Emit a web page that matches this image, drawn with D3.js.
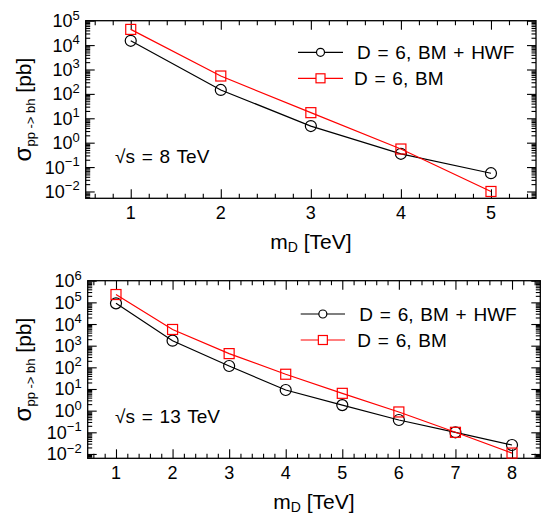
<!DOCTYPE html>
<html>
<head>
<meta charset="utf-8">
<script src="https://cdn.jsdelivr.net/npm/d3@7"></script>
<style>
  body { margin: 0; background: #fff; }
  svg { display: block; font-family: "Liberation Sans", Arial, sans-serif; }
</style>
</head>
<body>
<div id="chart"></div>
<script>
// sqrt(s) = 8 TeV
const md8 = [1, 2, 3, 4, 5];
const hwf8 = [1.5e4, 145, 4.8, 0.35, 0.056];
const bm8 = [4.4e4, 540, 17, 0.55, 0.01];

// sqrt(s) = 13 TeV
const md13 = [1, 2, 3, 4, 5, 6, 7, 8];
const hwf13 = [9e4, 1.7e3, 115, 9, 1.8, 0.37, 0.1, 0.026];
const bm13 = [2.3e5, 5.6e3, 430, 48, 6.3, 0.87, 0.1, 0.011];

const seriesLabels = ['D = 6, BM + HWF', 'D = 6, BM'];
const energyLabels = ['8 TeV', '13 TeV'];
const decades8 = [-2, -1, 0, 1, 2, 3, 4, 5];
const decades13 = [-2, -1, 0, 1, 2, 3, 4, 5, 6];

const width = 541;
const height = 516;

const svg = d3.select('#chart')
  .append('svg')
    .attr('width', width)
    .attr('height', height);

const panels = [
  {
    box: { left: 85.7, right: 536, top: 20.7, bottom: 198.3 },
    xDomain: [0.5, 5.5],
    yDomain: [Math.pow(10, -2.28), 1e5],
    x: md8, hwf: hwf8, bm: bm8, decades: decades8,
    energy: energyLabels[0],
    legend: { x1: 298, x2: 343, y: 52.3, tx: [357, 354] },
  },
  {
    box: { left: 87.7, right: 540.3, top: 280.7, bottom: 458.3 },
    xDomain: [0.5, 8.5],
    yDomain: [Math.pow(10, -2.2), 1e6],
    x: md13, hwf: hwf13, bm: bm13, decades: decades13,
    energy: energyLabels[1],
    legend: { x1: 300.7, x2: 345, y: 314, tx: [359.3, 357.3] },
  },
];

const drawPanel = p => {
  const b = p.box;
  const xScale = d3.scaleLinear().domain(p.xDomain).range([b.left, b.right]);
  const yScale = d3.scaleLog().domain(p.yDomain).range([b.bottom, b.top]);

  const g = svg.append('g');

  // tick values
  const xMajor = d3.range(Math.ceil(p.xDomain[0]), Math.floor(p.xDomain[1]) + 1);
  const xMinor = d3.range(Math.ceil(p.xDomain[0] * 5), Math.floor(p.xDomain[1] * 5) + 1)
    .filter(i => i % 5 !== 0)
    .map(i => i / 5);
  const yMajor = p.decades.map(k => Math.pow(10, k));
  const yMinor = [];
  d3.range(p.decades[0] - 1, p.decades[p.decades.length - 1] + 1).forEach(k => {
    d3.range(2, 10).forEach(m => {
      const v = m * Math.pow(10, k);
      if (v >= p.yDomain[0] && v <= p.yDomain[1]) yMinor.push(v);
    });
  });

  const tickAxis = (axisFn, scale, values, size, transform) => {
    g.append('g')
      .attr('transform', transform)
      .call(axisFn(scale).tickValues(values).tickSize(-size).tickFormat(''))
      .call(s => s.select('.domain').remove())
      .call(s => s.selectAll('line').attr('stroke', '#000').attr('stroke-width', 1.1));
  };

  // ticks point inward on all four sides
  tickAxis(d3.axisBottom, xScale, xMajor, 9, `translate(0,${b.bottom})`);
  tickAxis(d3.axisBottom, xScale, xMinor, 4.5, `translate(0,${b.bottom})`);
  tickAxis(d3.axisTop, xScale, xMajor, 9, `translate(0,${b.top})`);
  tickAxis(d3.axisTop, xScale, xMinor, 4.5, `translate(0,${b.top})`);
  tickAxis(d3.axisLeft, yScale, yMajor, 9, `translate(${b.left},0)`);
  tickAxis(d3.axisLeft, yScale, yMinor, 4.5, `translate(${b.left},0)`);
  tickAxis(d3.axisRight, yScale, yMajor, 9, `translate(${b.right},0)`);
  tickAxis(d3.axisRight, yScale, yMinor, 4.5, `translate(${b.right},0)`);

  g.append('rect')
    .attr('x', b.left)
    .attr('y', b.top)
    .attr('width', b.right - b.left)
    .attr('height', b.bottom - b.top)
    .attr('fill', 'none')
    .attr('stroke', '#000')
    .attr('stroke-width', 1.3);

  // x tick labels
  g.selectAll('.xlab')
    .data(xMajor)
    .enter().append('text')
      .attr('class', 'xlab')
      .attr('x', d => xScale(d))
      .attr('y', b.bottom + 20.5)
      .attr('text-anchor', 'middle')
      .attr('font-size', 18)
      .text(d => d);

  // y tick labels, 10 with superscript exponent
  const ylab = g.selectAll('.ylab')
    .data(p.decades)
    .enter().append('text')
      .attr('class', 'ylab')
      .attr('x', b.left - 6)
      .attr('y', d => yScale(Math.pow(10, d)) + 6.5)
      .attr('text-anchor', 'end')
      .attr('font-size', 18);
  ylab.append('tspan').text('10');
  ylab.append('tspan')
    .attr('dy', -7.5)
    .attr('font-size', 13)
    .text(d => d < 0 ? '\u2212' + (-d) : d);

  // axis titles
  const xt = g.append('text')
    .attr('x', (b.left + b.right) / 2)
    .attr('y', b.bottom + 51)
    .attr('text-anchor', 'middle')
    .attr('font-size', 21);
  xt.append('tspan').text('m');
  xt.append('tspan').attr('font-size', 14).attr('dy', 3).text('D');
  xt.append('tspan').attr('dy', -3).text(' [TeV]');

  const yt = g.append('text')
    .attr('transform', `translate(31,${(b.top + b.bottom) / 2}) rotate(-90)`)
    .attr('text-anchor', 'middle')
    .attr('font-size', 21);
  yt.append('tspan').attr('font-size', 24).text('\u03c3');
  yt.append('tspan').attr('font-size', 13).attr('dy', 4).text('pp -> bh');
  yt.append('tspan').attr('dy', -4).text(' [pb]');

  // sqrt(s) label
  g.append('text')
    .attr('x', 115)
    .attr('y', b.bottom - 35)
    .attr('font-size', 19)
    .attr('word-spacing', 1.5)
    .text('\u221as = ' + p.energy);

  const line = d3.line()
    .x((d, i) => xScale(p.x[i]))
    .y(d => yScale(d));

  const series = [
    { values: p.hwf, color: '#000', shape: 'circle' },
    { values: p.bm, color: '#ff0000', shape: 'square' },
  ];

  series.forEach((s, si) => {
    g.append('path')
      .datum(s.values)
      .attr('fill', 'none')
      .attr('stroke', s.color)
      .attr('stroke-width', 1.2)
      .attr('d', line);

    if (s.shape === 'circle') {
      g.selectAll(`.pt${si}`)
        .data(s.values)
        .enter().append('circle')
          .attr('class', `pt${si}`)
          .attr('cx', (d, i) => xScale(p.x[i]))
          .attr('cy', d => yScale(d))
          .attr('r', 5.5)
          .attr('fill', 'none')
          .attr('stroke', s.color)
          .attr('stroke-width', 1.2);
    } else {
      g.selectAll(`.pt${si}`)
        .data(s.values)
        .enter().append('rect')
          .attr('class', `pt${si}`)
          .attr('x', (d, i) => xScale(p.x[i]) - 5)
          .attr('y', d => yScale(d) - 5)
          .attr('width', 10)
          .attr('height', 10)
          .attr('fill', 'none')
          .attr('stroke', s.color)
          .attr('stroke-width', 1.2);
    }

    // legend row
    const ly = p.legend.y + si * 26;
    const lx = (p.legend.x1 + p.legend.x2) / 2;
    g.append('line')
      .attr('x1', p.legend.x1)
      .attr('x2', p.legend.x2)
      .attr('y1', ly)
      .attr('y2', ly)
      .attr('stroke', s.color)
      .attr('stroke-width', 1.2);
    if (s.shape === 'circle') {
      g.append('circle')
        .attr('cx', lx).attr('cy', ly).attr('r', 4)
        .attr('fill', '#fff').attr('stroke', s.color).attr('stroke-width', 1.2);
    } else {
      g.append('rect')
        .attr('x', lx - 4.5).attr('y', ly - 4.5).attr('width', 9).attr('height', 9)
        .attr('fill', '#fff').attr('stroke', s.color).attr('stroke-width', 1.2);
    }
    g.append('text')
      .attr('x', p.legend.tx[si])
      .attr('y', ly + 7)
      .attr('font-size', 19)
      .attr('word-spacing', 1.5)
      .text(seriesLabels[si]);
  });
};

panels.forEach(drawPanel);
</script>
</body>
</html>
